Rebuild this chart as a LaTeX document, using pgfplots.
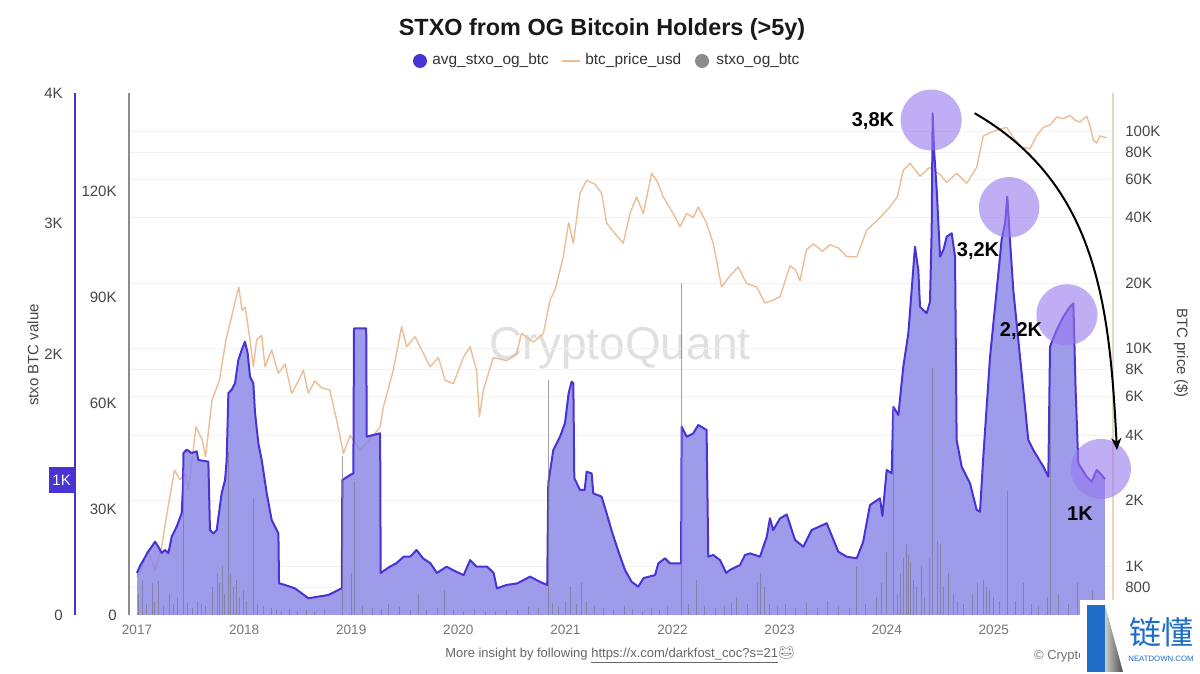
\documentclass[border=0pt]{standalone}
\usepackage{fontspec}
\setmainfont{Liberation Sans}
\newfontfamily\cjk{Noto Sans CJK SC}
\newfontfamily\emoji{Noto Emoji}
\usepackage{pgfplots}
\usepackage{pgfplotstable}
\pgfplotsset{compat=1.18}
\usetikzlibrary{arrows.meta}

\definecolor{avgline}{RGB}{72,52,212}
\definecolor{avgfill}{RGB}{136,130,230}
\definecolor{pricec}{RGB}{236,190,150}
\definecolor{spike}{RGB}{120,120,138}
\definecolor{circ}{RGB}{150,120,238}
\definecolor{txtgray}{RGB}{70,70,70}
\definecolor{lightgray}{RGB}{120,120,120}
\definecolor{priceaxis}{RGB}{232,214,190}
\definecolor{logoblue}{RGB}{30,110,200}

\pgfplotstableread{
t v
2017.000 322
2017.030 380
2017.060 421
2017.100 480
2017.137 523
2017.168 562
2017.199 523
2017.230 475
2017.260 498
2017.293 475
2017.324 600
2017.370 677
2017.417 781
2017.430 1000
2017.433 1241
2017.464 1267
2017.510 1241
2017.557 1254
2017.572 1188
2017.666 1175
2017.681 651
2017.713 626
2017.744 651
2017.790 933
2017.822 1034
2017.837 1188
2017.853 1700
2017.884 1727
2017.915 1776
2017.946 1954
2017.977 2031
2018.008 2094
2018.033 2007
2018.055 1826
2018.086 1776
2018.102 1546
2018.133 1316
2018.164 1188
2018.211 933
2018.257 728
2018.304 651
2018.320 626
2018.326 243
2018.382 230
2018.475 204
2018.538 166
2018.600 128
2018.693 141
2018.786 153
2018.880 192
2018.912 204
2018.917 1034
2018.990 1073
2019.020 1085
2019.026 2197
2019.140 2197
2019.145 1367
2019.270 1392
2019.275 322
2019.360 370
2019.420 396
2019.490 447
2019.550 447
2019.610 498
2019.670 434
2019.740 396
2019.800 322
2019.890 370
2019.980 332
2020.050 306
2020.110 421
2020.170 370
2020.270 370
2020.330 322
2020.360 204
2020.450 230
2020.550 242
2020.670 294
2020.760 255
2020.830 230
2020.840 1011
2020.887 1264
2020.950 1367
2020.996 1471
2021.030 1700
2021.058 1788
2021.074 1775
2021.083 1049
2021.136 958
2021.180 958
2021.198 1098
2021.245 1085
2021.260 932
2021.338 907
2021.385 779
2021.430 651
2021.490 498
2021.556 345
2021.618 255
2021.680 217
2021.730 283
2021.837 306
2021.868 396
2021.930 434
2021.976 396
2022.080 396
2022.085 1443
2022.132 1366
2022.194 1392
2022.240 1456
2022.318 1418
2022.334 447
2022.380 460
2022.443 421
2022.474 370
2022.500 322
2022.536 345
2022.630 383
2022.677 460
2022.724 472
2022.817 447
2022.880 600
2022.910 741
2022.940 651
2023.004 740
2023.066 770
2023.144 575
2023.222 523
2023.299 651
2023.440 703
2023.548 485
2023.626 447
2023.720 434
2023.780 560
2023.844 843
2023.937 894
2023.960 760
2024.000 1111
2024.046 1085
2024.062 1596
2024.109 1533
2024.155 1903
2024.202 2159
2024.233 2490
2024.264 2822
2024.295 2644
2024.311 2362
2024.373 2312
2024.404 2400
2024.420 2950
2024.429 3845
2024.442 3563
2024.467 3257
2024.498 2746
2024.529 2797
2024.560 2899
2024.607 2925
2024.638 2746
2024.653 1341
2024.700 1136
2024.778 1009
2024.840 805
2024.871 791
2024.902 1213
2024.965 1979
2025.027 2490
2025.073 2874
2025.105 3002
2025.126 3206
2025.151 2874
2025.182 2490
2025.229 2107
2025.276 1724
2025.322 1341
2025.369 1264
2025.463 1136
2025.509 1060
2025.525 2056
2025.587 2184
2025.649 2286
2025.711 2362
2025.743 2388
2025.764 1724
2025.789 1162
2025.867 1060
2025.914 1021
2025.960 1111
2026.000 1080
2026.038 1040
}\avgdata

\pgfplotstableread{
t p
2017.000 893
2017.040 958
2017.100 1185
2017.170 958
2017.230 1227
2017.290 1874
2017.350 2764
2017.400 2496
2017.450 2668
2017.480 2236
2017.550 4372
2017.610 3795
2017.640 3184
2017.700 5800
2017.770 7160
2017.830 10960
2017.950 19200
2017.980 15000
2018.010 15500
2018.055 10960
2018.086 8250
2018.117 10960
2018.164 11500
2018.195 8250
2018.257 9840
2018.320 7700
2018.382 8500
2018.444 6230
2018.507 7100
2018.553 7960
2018.600 6230
2018.660 7100
2018.724 6600
2018.800 6450
2018.864 4690
2018.927 3295
2018.990 3990
2019.082 3410
2019.207 3990
2019.270 4370
2019.300 5390
2019.393 7960
2019.470 12600
2019.518 10200
2019.596 11330
2019.674 9500
2019.736 8250
2019.814 9100
2019.876 7160
2019.954 6900
2020.047 9100
2020.110 10200
2020.170 7960
2020.197 4860
2020.234 6450
2020.327 9100
2020.452 8800
2020.545 9500
2020.590 11750
2020.700 10700
2020.794 11750
2020.856 16700
2020.903 18600
2020.950 23000
2020.980 26400
2021.030 38000
2021.074 30500
2021.136 51800
2021.198 59300
2021.276 57000
2021.338 51800
2021.385 37700
2021.463 33800
2021.540 30500
2021.603 41800
2021.665 49800
2021.728 41800
2021.805 64000
2021.852 59300
2021.914 49800
2022.007 41800
2022.070 36300
2022.132 41800
2022.194 40000
2022.240 44800
2022.318 37700
2022.380 30500
2022.458 19200
2022.536 21600
2022.614 23700
2022.692 19900
2022.785 19200
2022.863 16200
2022.940 16700
2023.004 17300
2023.097 24000
2023.150 23000
2023.190 20500
2023.250 28400
2023.315 30300
2023.400 28000
2023.471 30000
2023.550 29000
2023.626 26500
2023.720 26400
2023.813 35000
2023.937 40000
2024.031 44800
2024.100 50000
2024.155 66000
2024.218 71000
2024.311 62000
2024.400 68000
2024.436 66000
2024.500 63000
2024.560 58000
2024.653 64000
2024.747 57500
2024.840 68000
2024.902 95000
2024.960 98000
2025.027 101000
2025.120 104000
2025.200 91000
2025.260 84000
2025.338 83000
2025.400 95000
2025.463 104000
2025.530 107000
2025.587 116000
2025.650 114000
2025.711 118000
2025.760 112000
2025.805 110000
2025.867 117000
2025.900 105000
2025.929 91000
2025.960 88000
2025.992 95000
2026.054 93000
}\pricedata

\pgfplotstableread{
t s
2017.010 6000
2017.050 9900
2017.090 3000
2017.140 9000
2017.160 4000
2017.200 9500
2017.250 2500
2017.300 6000
2017.340 3000
2017.380 5000
2017.433 41000
2017.470 3500
2017.520 2000
2017.560 4000
2017.600 3000
2017.640 2500
2017.700 8000
2017.750 12000
2017.770 9000
2017.800 14000
2017.820 6000
2017.853 46000
2017.870 12000
2017.900 8000
2017.930 10000
2017.960 5000
2017.990 7000
2018.020 4000
2018.086 33000
2018.120 3000
2018.180 2500
2018.250 2000
2018.300 1500
2018.350 1200
2018.420 1800
2018.500 1000
2018.580 1500
2018.660 1200
2018.750 1600
2018.917 45000
2019.000 12000
2019.026 38000
2019.100 2500
2019.200 2000
2019.280 1800
2019.350 3000
2019.450 2200
2019.550 1500
2019.630 6000
2019.700 1500
2019.800 2000
2019.870 7000
2019.950 1500
2020.050 1000
2020.150 1800
2020.250 1200
2020.350 1000
2020.450 1500
2020.550 1300
2020.650 2200
2020.750 2000
2020.840 66500
2020.880 3500
2020.930 2500
2021.000 4000
2021.050 8000
2021.100 3000
2021.150 9000
2021.200 4000
2021.270 2500
2021.350 2000
2021.450 1500
2021.550 2500
2021.630 1800
2021.720 1200
2021.800 2000
2021.880 1500
2021.950 2500
2022.085 94000
2022.150 3000
2022.220 10000
2022.300 2500
2022.400 2000
2022.480 2500
2022.550 3500
2022.600 5000
2022.700 3000
2022.790 9000
2022.820 12000
2022.860 8000
2022.900 3000
2022.980 2500
2023.050 3000
2023.150 2000
2023.250 3500
2023.350 2000
2023.450 4000
2023.550 2500
2023.650 2000
2023.720 13600
2023.800 3000
2023.900 5000
2023.950 9000
2024.000 17800
2024.062 59000
2024.100 6000
2024.130 12000
2024.160 16000
2024.180 20000
2024.200 17000
2024.220 15000
2024.250 10000
2024.280 8000
2024.320 14000
2024.350 5000
2024.400 16000
2024.429 70000
2024.470 21000
2024.500 20000
2024.530 8000
2024.580 12000
2024.620 6000
2024.660 4000
2024.720 3000
2024.800 6000
2024.850 9000
2024.900 10000
2024.930 8000
2024.960 7000
2025.000 5000
2025.050 4000
2025.130 35000
2025.200 4000
2025.280 9000
2025.350 3000
2025.420 2500
2025.500 5000
2025.525 60000
2025.600 6000
2025.700 3000
2025.780 9000
2025.850 4000
2025.920 7000
2025.980 3000
2026.030 2000
}\stxodata

\pgfplotsset{
  mybase/.style={
    scale only axis, width=492pt, height=261pt,
    at={(0pt,0pt)}, anchor=south west,
    xmin=2016.925, xmax=2026.113,
    major tick length=0pt, tick style={draw=none},
    scaled y ticks=false, scaled x ticks=false,
    yticklabel style={inner xsep=6pt, text=txtgray, font=\fontsize{7.5}{9}\selectfont},
  }
}

\begin{document}
\begin{tikzpicture}
\path[use as bounding box, fill=white] (-64.5pt,-29.5pt) rectangle (535.5pt,307.5pt);

% watermark
\node[text=black!12, font=\fontsize{23}{26}\selectfont] at (245.5pt,133.5pt) {CryptoQuant};

% price axis (right, log)
\begin{axis}[mybase,
  ymode=log, ymin=596, ymax=149600,
  axis x line*=bottom, axis y line*=right,
  x axis line style={draw=none},
  y axis line style={draw=priceaxis, line width=0.8pt},
  xtick={2017,2018,2019,2020,2021,2022,2023,2024,2025},
  xticklabels={2017,2018,2019,2020,2021,2022,2023,2024,2025},
  xticklabel style={text=lightgray, inner ysep=5pt, font=\fontsize{6.8}{8}\selectfont},
  ytick={800,1000,2000,4000,6000,8000,10000,20000,40000,60000,80000,100000},
  yticklabels={800,1K,2K,4K,6K,8K,10K,20K,40K,60K,80K,100K},
  ymajorgrids, grid style={draw=black!5, line width=0.5pt},
]
\addplot[pricec, line width=0.7pt, line join=round] table[x=t,y=p] {\pricedata};
\end{axis}

% avg axis (outer left)
\begin{axis}[mybase,
  ymin=0, ymax=4000,
  axis x line=none, axis y line*=left,
  y axis line style={draw=avgline, line width=0.8pt, xshift=-27pt},
  ytick={0,1000,2000,3000,4000},
  yticklabels={0,,2K,3K,4K},
  yticklabel style={xshift=-27pt},
  clip=false,
]
\addplot[draw=none, fill=avgfill, fill opacity=0.8] table[x=t,y=v] {\avgdata} \closedcycle;
\addplot[avgline, line width=1pt, line join=round] table[x=t,y=v] {\avgdata};
% annotations
\fill[circ, opacity=0.6] (axis cs:2024.4155,3793) circle[radius=15.25pt];
\fill[circ, opacity=0.6] (axis cs:2025.143,3124) circle[radius=15.1pt];
\fill[circ, opacity=0.6] (axis cs:2025.6825,2301) circle[radius=15.25pt];
\fill[circ, opacity=0.6] (axis cs:2026.0,1119) circle[radius=15pt];
\node[font=\bfseries\fontsize{10}{12}\selectfont] at (axis cs:2023.872,3785) {3,8K};
\node[font=\bfseries\fontsize{10}{12}\selectfont] at (axis cs:2024.853,2789) {3,2K};
\node[font=\bfseries\fontsize{10}{12}\selectfont] at (axis cs:2025.254,2176) {2,2K};
\node[font=\bfseries\fontsize{10}{12}\selectfont] at (axis cs:2025.805,774) {1K};
\draw[black, line width=1pt, -{Stealth[length=6pt,width=5pt]}] (axis cs:2024.821,3845) to[out=-30,in=93] (axis cs:2026.15,1264);
\end{axis}

% stxo axis (inner left)
\begin{axis}[mybase,
  ymin=0, ymax=147700,
  axis x line=none, axis y line*=left,
  y axis line style={draw=black!45, line width=0.8pt},
  ytick={0,30000,60000,90000,120000},
  yticklabels={0,30K,60K,90K,120K},
]
\addplot[ycomb, spike, line width=0.4pt, opacity=0.7] table[x=t,y=s] {\stxodata};
\end{axis}

% 1K marker box on outer axis
\node[fill=avgline, text=white, anchor=east, minimum width=13pt, minimum height=13pt, inner sep=1pt, font=\fontsize{7.5}{9}\selectfont] at (-27pt,67.5pt) {1K};

% axis titles
\node[rotate=90, text=txtgray, font=\fontsize{7.5}{9}\selectfont] at (-48pt,130pt) {stxo BTC value};
\node[rotate=-90, text=txtgray, font=\fontsize{7.5}{9}\selectfont] at (526pt,131pt) {BTC price (\$)};

% title
\node[font=\bfseries\fontsize{11.7}{14}\selectfont, text=black!90] at (236.5pt,293pt) {STXO from OG Bitcoin Holders (>5y)};

% legend
\fill[avgline] (145.5pt,277pt) circle[radius=3.5pt];
\node[anchor=west, inner sep=0pt, text=black!80, font=\fontsize{7.7}{9}\selectfont] at (151.5pt,277pt) {avg\_stxo\_og\_btc};
\draw[pricec, line width=0.8pt] (216.5pt,277pt) -- (225.5pt,277pt);
\node[anchor=west, inner sep=0pt, text=black!80, font=\fontsize{7.7}{9}\selectfont] at (228pt,277pt) {btc\_price\_usd};
\fill[black!45] (286.5pt,277pt) circle[radius=3.5pt];
\node[anchor=west, inner sep=0pt, text=black!80, font=\fontsize{7.7}{9}\selectfont] at (293.5pt,277pt) {stxo\_og\_btc};

% footer
\node[text=black!60, font=\fontsize{6.5}{8}\selectfont] at (245.5pt,-20pt) {More insight by following \underline{https://x.com/darkfost\_coc?s=21}{\emoji 🐸}};
\node[anchor=west, text=black!55, font=\fontsize{6.5}{8}\selectfont] at (449pt,-20.5pt) {© CryptoQuant};

% logo watermark
\fill[white] (475.5pt,7.5pt) rectangle (535.5pt,-29.5pt);
\fill[logoblue] (479pt,5pt) -- (488pt,5pt) -- (488pt,-28.5pt) -- (479pt,-28.5pt) -- cycle;
\shade[left color=black!20, right color=black!70] (488pt,5pt) -- (497pt,-28.5pt) -- (488pt,-28.5pt) -- cycle;
\node[text=logoblue, font=\cjk\fontsize{16}{18}\selectfont] at (516pt,-8.5pt) {链懂};
\node[text=logoblue, font=\fontsize{3.9}{4.5}\selectfont] at (516pt,-22pt) {NEATDOWN.COM};
\end{tikzpicture}
\end{document}
